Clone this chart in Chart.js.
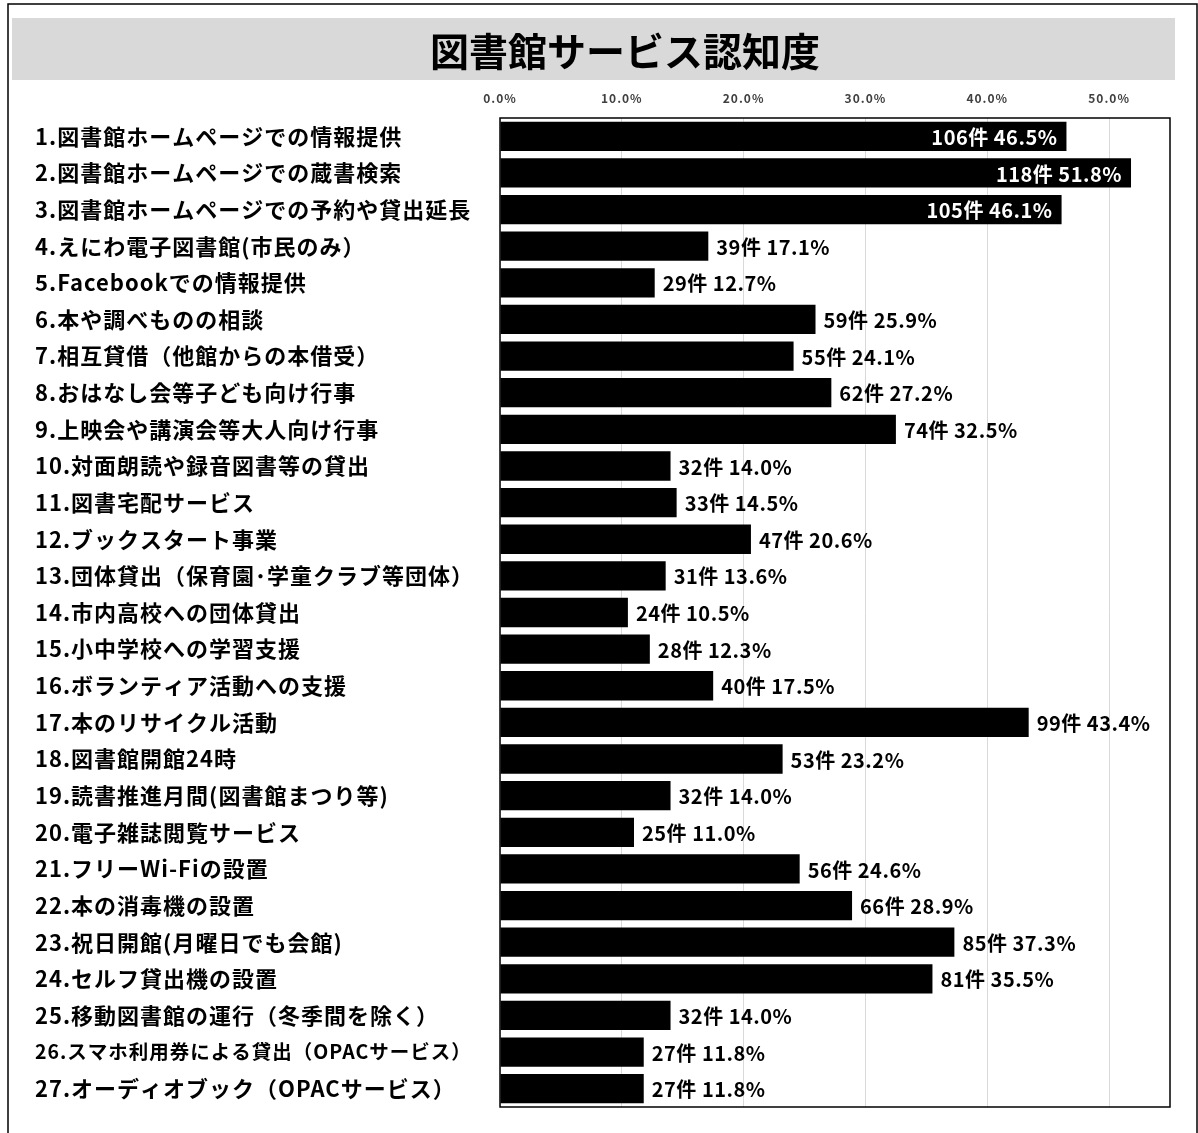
<!DOCTYPE html>
<html>
<head>
<meta charset="utf-8">
<script src="https://cdn.jsdelivr.net/npm/chart.js@4.4.1/dist/chart.umd.min.js"></script>
<style>
  html, body { margin: 0; padding: 0; background: #fff; }
</style>
</head>
<body>
<canvas id="serviceChart" width="1198" height="1133"></canvas>
<script>
// Chart data
const titleText = '図書館サービス認知度';

const categories = [
  '1.図書館ホームページでの情報提供',
  '2.図書館ホームページでの蔵書検索',
  '3.図書館ホームページでの予約や貸出延長',
  '4.えにわ電子図書館(市民のみ）',
  '5.Facebookでの情報提供',
  '6.本や調べものの相談',
  '7.相互貸借（他館からの本借受）',
  '8.おはなし会等子ども向け行事',
  '9.上映会や講演会等大人向け行事',
  '10.対面朗読や録音図書等の貸出',
  '11.図書宅配サービス',
  '12.ブックスタート事業',
  '13.団体貸出（保育園･学童クラブ等団体）',
  '14.市内高校への団体貸出',
  '15.小中学校への学習支援',
  '16.ボランティア活動への支援',
  '17.本のリサイクル活動',
  '18.図書館開館24時',
  '19.読書推進月間(図書館まつり等)',
  '20.電子雑誌閲覧サービス',
  '21.フリーWi-Fiの設置',
  '22.本の消毒機の設置',
  '23.祝日開館(月曜日でも会館)',
  '24.セルフ貸出機の設置',
  '25.移動図書館の運行（冬季間を除く）',
  '26.スマホ利用券による貸出（OPACサービス）',
  '27.オーディオブック（OPACサービス）'
];

const counts = [106, 118, 105, 39, 29, 59, 55, 62, 74, 32, 33, 47, 31, 24, 28, 40, 99, 53, 32, 25, 56, 66, 85, 81, 32, 27, 27];

const percents = [46.5, 51.8, 46.1, 17.1, 12.7, 25.9, 24.1, 27.2, 32.5, 14.0, 14.5, 20.6, 13.6, 10.5, 12.3, 17.5, 43.4, 23.2, 14.0, 11.0, 24.6, 28.9, 37.3, 35.5, 14.0, 11.8, 11.8];

const xTickValues = [0, 10, 20, 30, 40, 50];
const xMax = 55;

const fontFamily = '"Noto Sans CJK JP", "Noto Sans", sans-serif';

// shrink a category label a little when it would run into the bars
const measureCtx = document.createElement('canvas').getContext('2d');
function labelFontSize(text) {
  let size = 22;
  measureCtx.letterSpacing = '1px';
  while (size > 16) {
    measureCtx.font = 'bold ' + size + 'px ' + fontFamily;
    if (measureCtx.measureText(text).width <= 442) break;
    size -= 0.5;
  }
  return size;
}

// Background frame, title bar, plot border and value labels
const decorPlugin = {
  id: 'decor',
  beforeDraw(chart) {
    const ctx = chart.ctx;
    ctx.save();
    ctx.fillStyle = '#fff';
    ctx.fillRect(0, 0, chart.width, chart.height);
    ctx.strokeStyle = '#000';
    ctx.lineWidth = 1.5;
    ctx.strokeRect(8, 4, chart.width - 9, chart.height + 20);
    ctx.fillStyle = '#d9d9d9';
    ctx.fillRect(12, 18, 1163, 62);
    ctx.fillStyle = '#000';
    ctx.font = 'bold 39px ' + fontFamily;
    ctx.textAlign = 'center';
    ctx.textBaseline = 'middle';
    ctx.fillText(titleText, 625, 51);
    ctx.restore();
    // wider tracking for the axis labels, like the original
    ctx.letterSpacing = '1px';
  },
  afterDatasetsDraw(chart) {
    const ctx = chart.ctx;
    const area = chart.chartArea;
    ctx.save();
    ctx.strokeStyle = '#000';
    ctx.lineWidth = 1.5;
    ctx.strokeRect(area.left, area.top, area.right - area.left, area.bottom - area.top);

    ctx.font = 'bold 20px ' + fontFamily;
    ctx.letterSpacing = '0.5px';
    ctx.textBaseline = 'middle';
    const meta = chart.getDatasetMeta(0);
    meta.data.forEach((bar, i) => {
      const text = counts[i] + '件 ' + percents[i].toFixed(1) + '%';
      const w = ctx.measureText(text).width;
      if (bar.x + 9 + w > area.right) {
        ctx.fillStyle = '#fff';
        ctx.textAlign = 'right';
        ctx.fillText(text, bar.x - 9, bar.y + 1);
      } else {
        ctx.fillStyle = '#000';
        ctx.textAlign = 'left';
        ctx.fillText(text, bar.x + 8, bar.y + 1);
      }
    });
    ctx.restore();
  },
  afterDraw(chart) {
    chart.ctx.letterSpacing = '0px';
  }
};

const ctx = document.getElementById('serviceChart').getContext('2d');

new Chart(ctx, {
  type: 'bar',
  data: {
    labels: categories,
    datasets: [{
      data: percents,
      backgroundColor: '#000',
      borderWidth: 0,
      barPercentage: 0.8,
      categoryPercentage: 1.0
    }]
  },
  options: {
    indexAxis: 'y',
    responsive: false,
    animation: false,
    layout: {
      padding: { top: 88, left: 35, right: 28, bottom: 26 }
    },
    plugins: {
      legend: { display: false },
      title: { display: false },
      tooltip: { enabled: false }
    },
    scales: {
      x: {
        position: 'top',
        min: 0,
        max: xMax,
        afterBuildTicks: scale => {
          scale.ticks = xTickValues.map(v => ({ value: v }));
        },
        afterFit: scale => { scale.height = 30; },
        grid: { color: '#d9d9d9', lineWidth: 1, drawTicks: false },
        border: { display: false },
        ticks: {
          padding: 12,
          color: '#404040',
          font: { family: fontFamily, size: 12, weight: 'bold' },
          callback: val => val.toFixed(1) + '%'
        }
      },
      y: {
        afterFit: scale => { scale.width = 465; },
        grid: { display: false, drawTicks: false },
        border: { display: false },
        ticks: {
          crossAlign: 'far',
          padding: 0,
          color: '#000',
          autoSkip: false,
          font: c => ({
            family: fontFamily,
            size: labelFontSize(categories[c.index] || ''),
            weight: 'bold'
          })
        }
      }
    }
  },
  plugins: [decorPlugin]
});
</script>
</body>
</html>
